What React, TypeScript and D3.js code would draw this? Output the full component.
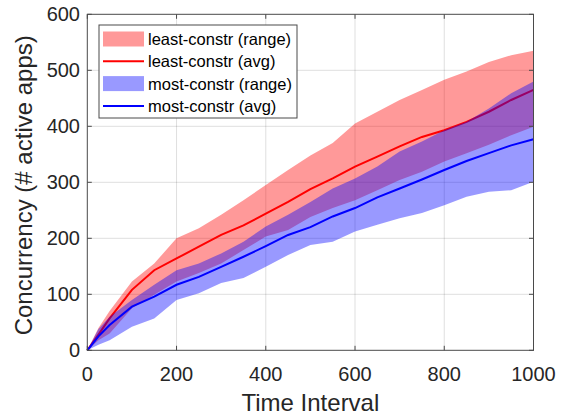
import React from 'react';
import * as d3 from 'd3';

// time samples and series
const timeSteps = [0, 25, 50, 100, 150, 200, 250, 300, 350, 400, 450, 500, 550, 600, 650, 700, 750, 800, 850, 900, 950, 1000];
const leastAvg = [0, 28, 57, 108, 143, 164, 185, 206, 223, 244, 265, 288, 307, 328, 346, 364, 381, 393, 408, 426, 447, 465];
const leastHi = [0, 40, 70, 123, 155, 200, 218, 242, 268, 295, 322, 348, 370, 405, 426, 447, 465, 483, 498, 515, 527, 535];
const leastLo = [0, 18, 30, 75, 99, 123, 138, 155, 179, 203, 215, 238, 254, 268, 286, 304, 319, 337, 352, 367, 384, 399];
const mostAvg = [0, 25, 45, 78, 96, 117, 131, 149, 167, 186, 206, 220, 239, 254, 273, 289, 305, 322, 338, 352, 366, 377];
const mostHi = [0, 38, 60, 90, 117, 143, 155, 173, 194, 221, 242, 265, 289, 307, 328, 355, 373, 393, 408, 432, 459, 480];
const mostLo = [0, 10, 18, 42, 57, 90, 102, 120, 129, 149, 170, 188, 194, 212, 224, 236, 245, 259, 274, 283, 286, 301];

const xTicks = [0, 200, 400, 600, 800, 1000];
const yTicks = [0, 100, 200, 300, 400, 500, 600];

const legendItems = [
  { label: 'least-constr (range)', kind: 'patch', color: '#ff0000' },
  { label: 'least-constr (avg)', kind: 'line', color: '#ff0000' },
  { label: 'most-constr (range)', kind: 'patch', color: '#0000ff' },
  { label: 'most-constr (avg)', kind: 'line', color: '#0000ff' },
];

const W = 566;
const H = 420;
const left = 87.3, right = 533.5, top = 14.3, bottom = 350.3;
const font = '"Liberation Sans", Arial, Helvetica, sans-serif';
const ink = '#262626';

export default function App() {
  const x = d3.scaleLinear().domain([0, 1000]).range([left, right]);
  const y = d3.scaleLinear().domain([0, 600]).range([bottom, top]);

  const band = (lo: number[], hi: number[]) =>
    d3.area<number>()
      .x((t) => x(t))
      .y0((_, i) => y(lo[i]))
      .y1((_, i) => y(hi[i]))(timeSteps) || '';

  const line = (vals: number[]) =>
    d3.line<number>()
      .x((t) => x(t))
      .y((_, i) => y(vals[i]))(timeSteps) || '';

  const tickLen = 4.5;

  return (
    <svg width={W} height={H} style={{ position: 'absolute', left: 0, top: 0, background: '#fff' }}>
      <rect x={0} y={0} width={W} height={H} fill="#fff" />

      {/* grid */}
      <g stroke={ink} strokeOpacity={0.15} strokeWidth={1}>
        {xTicks.slice(1, -1).map((t) => (
          <line key={'gx' + t} x1={x(t)} x2={x(t)} y1={top} y2={bottom} />
        ))}
        {yTicks.slice(1, -1).map((v) => (
          <line key={'gy' + v} x1={left} x2={right} y1={y(v)} y2={y(v)} />
        ))}
      </g>

      {/* data */}
      <path d={band(leastLo, leastHi)} fill="#ff0000" fillOpacity={0.4} />
      <path d={line(leastAvg)} fill="none" stroke="#ff0000" strokeWidth={2} />
      <path d={band(mostLo, mostHi)} fill="#0000ff" fillOpacity={0.4} />
      <path d={line(mostAvg)} fill="none" stroke="#0000ff" strokeWidth={2} />

      {/* axes box and ticks */}
      <rect x={left} y={top} width={right - left} height={bottom - top} fill="none" stroke="#4a4a4a" strokeWidth={1} />
      <g stroke="#4a4a4a" strokeWidth={1}>
        {xTicks.map((t) => (
          <g key={'tx' + t}>
            <line x1={x(t)} x2={x(t)} y1={bottom} y2={bottom - tickLen} />
            <line x1={x(t)} x2={x(t)} y1={top} y2={top + tickLen} />
          </g>
        ))}
        {yTicks.map((v) => (
          <g key={'ty' + v}>
            <line x1={left} x2={left + tickLen} y1={y(v)} y2={y(v)} />
            <line x1={right} x2={right - tickLen} y1={y(v)} y2={y(v)} />
          </g>
        ))}
      </g>

      {/* tick labels */}
      <g fontFamily={font} fontSize={20} fill={ink}>
        {xTicks.map((t) => (
          <text key={'lx' + t} x={x(t)} y={381} textAnchor="middle">{t}</text>
        ))}
        {yTicks.map((v) => (
          <text key={'ly' + v} x={80} y={y(v) + 7} textAnchor="end">{v}</text>
        ))}
      </g>

      {/* axis labels */}
      <text x={(left + right) / 2} y={411} textAnchor="middle" fontFamily={font} fontSize={24} fill={ink}>
        Time Interval
      </text>
      <text
        transform={`translate(32,${(top + bottom) / 2 + 3}) rotate(-90)`}
        textAnchor="middle"
        fontFamily={font}
        fontSize={24}
        fill={ink}
      >
        Concurrency (# active apps)
      </text>

      {/* legend */}
      <g>
        <rect x={99} y={25} width={198} height={93} fill="#fff" stroke="#4a4a4a" strokeWidth={1} />
        {legendItems.map((d, i) => {
          const cy = 39 + i * 22.3;
          return (
            <g key={d.label}>
              {d.kind === 'patch' ? (
                <rect x={103} y={cy - 7.5} width={41} height={15} fill={d.color} fillOpacity={0.4} />
              ) : (
                <line x1={103} x2={144} y1={cy} y2={cy} stroke={d.color} strokeWidth={2} />
              )}
              <text x={148} y={cy + 6} fontFamily={font} fontSize={16.5} fill="#000">{d.label}</text>
            </g>
          );
        })}
      </g>
    </svg>
  );
}
